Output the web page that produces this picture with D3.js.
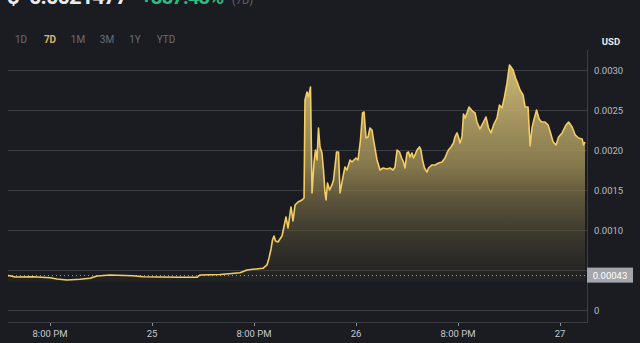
<!DOCTYPE html>
<html>
<head>
<meta charset="utf-8">
<script src="https://cdn.jsdelivr.net/npm/d3@7"></script>
<style>
  html, body { margin: 0; padding: 0; background: #1b1c21; }
  svg { display: block; font-family: Roboto, "Noto Sans", sans-serif; }
</style>
</head>
<body>
<div id="chart"></div>
<script>
var width = 640,
	height = 343;

// hours since start of window
var hours = [0, 0.24, 0.82, 2.95, 4.95, 5.77, 6.95, 8.49, 9.66, 10.49, 12.02, 14.73, 15.91, 17.91, 20.27, 22.27,
	22.63, 24.99, 27.34, 28.17, 28.87, 30.05, 30.52, 30.76, 31.0, 31.17, 31.35, 31.53, 31.82, 32.29, 32.47, 32.76,
	33.0, 33.35, 33.59, 33.83, 34.18, 34.65, 34.89, 35.0, 35.24, 35.42, 35.65, 35.83, 36.06, 36.24, 36.42, 36.59,
	36.77, 37.0, 37.18, 37.36, 37.48, 37.65, 37.89, 38.18, 38.36, 38.72, 38.95, 39.13, 39.48, 39.71, 39.95, 40.31,
	40.54, 40.77, 41.01, 41.25, 41.54, 41.78, 41.96, 42.19, 42.43, 42.66, 42.9, 43.08, 43.49, 43.84, 44.2, 44.67,
	45.02, 45.38, 45.61, 45.85, 46.14, 46.38, 46.61, 46.79, 47.02, 47.2, 47.38, 47.61, 47.79, 47.97, 48.2, 48.5,
	48.67, 48.85, 49.08, 49.38, 49.56, 49.97, 50.32, 50.74, 51.15, 51.5, 51.74, 51.91, 52.21, 52.5, 52.68, 52.92,
	53.09, 53.27, 53.5, 53.68, 53.86, 54.09, 54.33, 54.62, 54.86, 55.04, 55.27, 55.62, 56.04, 56.33, 56.63, 56.92,
	57.27, 57.63, 57.92, 58.22, 58.51, 58.81, 59.1, 59.28, 59.52, 59.81, 60.05, 60.34, 60.7, 60.94, 61.29, 61.53,
	61.76, 61.94, 62.29, 62.59, 62.88, 63.29, 63.65, 63.94, 64.24, 64.59, 64.89, 65.3, 65.77, 66.07, 66.48, 66.84,
	67.25, 67.66, 67.84, 68.0];

// price in USD
var prices = [0.00043, 0.000429, 0.000413, 0.000416, 0.000404, 0.000388, 0.000375, 0.000384, 0.000396, 0.000425,
	0.000438, 0.000429, 0.000416, 0.000413, 0.00041, 0.000409, 0.000438, 0.000444, 0.000466, 0.0005, 0.000509,
	0.000521, 0.000563, 0.00065, 0.000763, 0.000875, 0.000925, 0.000863, 0.00085, 0.000925, 0.001013, 0.001163,
	0.001025, 0.001288, 0.001113, 0.001313, 0.00135, 0.001375, 0.0014, 0.002625, 0.002725, 0.002663, 0.002788,
	0.001463, 0.001838, 0.002, 0.001875, 0.002275, 0.002038, 0.001963, 0.00175, 0.001463, 0.001375, 0.001588,
	0.0015, 0.001563, 0.001625, 0.001975, 0.001975, 0.001463, 0.001663, 0.001788, 0.00175, 0.001875, 0.00185,
	0.001875, 0.0019, 0.001875, 0.002125, 0.002463, 0.002475, 0.00215, 0.002163, 0.002275, 0.00225, 0.002125,
	0.001875, 0.00175, 0.001775, 0.001763, 0.001775, 0.00175, 0.001788, 0.002, 0.001975, 0.0019, 0.00185, 0.001775,
	0.001963, 0.001975, 0.001913, 0.001963, 0.0019, 0.001938, 0.002, 0.002038, 0.002, 0.001875, 0.001775, 0.001725,
	0.001775, 0.001813, 0.001813, 0.001838, 0.00185, 0.0019, 0.001963, 0.002, 0.002038, 0.002088, 0.002163,
	0.002213, 0.002163, 0.002088, 0.002163, 0.00245, 0.0024, 0.002463, 0.002538, 0.0025, 0.002475, 0.002463,
	0.00235, 0.002263, 0.00235, 0.002413, 0.002275, 0.002213, 0.002325, 0.0024, 0.002563, 0.002525, 0.002663,
	0.002838, 0.003063, 0.003038, 0.003, 0.0029, 0.002838, 0.00275, 0.002688, 0.002538, 0.002538, 0.00205,
	0.002275, 0.002363, 0.0025, 0.002388, 0.00235, 0.00235, 0.002313, 0.002213, 0.0021, 0.002063, 0.002163,
	0.002213, 0.002313, 0.00235, 0.002288, 0.002188, 0.00215, 0.002138, 0.002063, 0.0021];

var tickHours = [5, 17, 29, 41, 53, 65];
var tickLabels = ["8:00 PM", "25", "8:00 PM", "26", "8:00 PM", "27"];
var gridTicks = [0, 0.0005, 0.0010, 0.0015, 0.0020, 0.0025, 0.0030];
// the 0.0005 label sits under the open-price badge, so it is not drawn
var labelTicks = [0, 0.0010, 0.0015, 0.0020, 0.0025, 0.0030];
var labelText = ["0", "0.0010", "0.0015", "0.0020", "0.0025", "0.0030"];
var openPrice = 0.00043;
var ranges = ["1D", "7D", "1M", "3M", "1Y", "YTD"];
var rangeX = [21, 50, 78, 107, 135, 166];

var data = hours.map(function(h, i){ return {h: h, p: prices[i]}; });

var svg = d3.select("#chart").append("svg")
	.attr("width", width)
	.attr("height", height);

svg.append("rect").attr("width", width).attr("height", height).attr("fill", "#1b1c21");

var x = d3.scaleLinear().domain([0, 68]).range([8, 585]);
var y = d3.scaleLinear().domain([0, 0.003]).range([310, 70]);

// header (cut off at the top, as in the screenshot)
svg.append("text").attr("x", 7).attr("y", 4).attr("font-weight", "bold")
	.attr("fill", "#eaecef").attr("font-size", 22).text("$");
svg.append("text").attr("x", 29).attr("y", 4).attr("font-weight", "bold")
	.attr("fill", "#eaecef").attr("font-size", 22).attr("textLength", 99).text("0.0021477");
svg.append("text").attr("x", 141).attr("y", 4).attr("font-weight", "bold")
	.attr("fill", "#2ebd85").attr("font-size", 20).attr("textLength", 83).text("+387.48%");
svg.append("text").attr("x", 232).attr("y", 4).attr("fill", "#5e6673").attr("font-size", 11).text("(7D)");

// range buttons
svg.selectAll(".rng")
	.data(ranges)
	.enter()
	.append("text")
	.attr("class", "rng")
	.attr("x", function(d, i){ return rangeX[i]; })
	.attr("y", 43)
	.attr("text-anchor", "middle")
	.attr("font-size", 10)
	.attr("fill", function(d){ return d === "7D" ? "#d6b56a" : "#6b6e76"; })
	.attr("font-weight", function(d){ return d === "7D" ? "bold" : "normal"; })
	.text(function(d){ return d; });

svg.append("text")
	.attr("x", 611).attr("y", 45)
	.attr("text-anchor", "middle")
	.attr("font-size", 9.5)
	.attr("font-weight", "bold")
	.attr("fill", "#eaecef")
	.text("USD");

// grid
svg.append("g")
	.selectAll("line")
	.data(gridTicks)
	.enter()
	.append("line")
	.attr("x1", 8).attr("x2", 587)
	.attr("y1", function(d){ return Math.round(y(d)) + 0.5; })
	.attr("y2", function(d){ return Math.round(y(d)) + 0.5; })
	.attr("stroke", "#3b3d43")
	.attr("stroke-width", 1);

// gradient fill
var defs = svg.append("defs");
var grad = defs.append("linearGradient")
	.attr("id", "areaFill")
	.attr("gradientUnits", "userSpaceOnUse")
	.attr("x1", 0).attr("y1", y(0.0031))
	.attr("x2", 0).attr("y2", y(0.0002));
grad.append("stop").attr("offset", "0%").attr("stop-color", "#d9c37c").attr("stop-opacity", 0.95);
grad.append("stop").attr("offset", "45%").attr("stop-color", "#9c8c56").attr("stop-opacity", 0.82);
grad.append("stop").attr("offset", "100%").attr("stop-color", "#2a2824").attr("stop-opacity", 0.2);

var area = d3.area()
	.x(function(d){ return x(d.h); })
	.y0(y(0.00036))
	.y1(function(d){ return y(d.p); });

svg.append("path")
	.datum(data)
	.attr("d", area)
	.attr("fill", "url(#areaFill)");

// open price dotted line
svg.append("line")
	.attr("x1", 8).attr("x2", 587)
	.attr("y1", y(openPrice)).attr("y2", y(openPrice))
	.attr("stroke", "#9ea1a8")
	.attr("stroke-width", 1)
	.attr("stroke-dasharray", "1,3");

var line = d3.line()
	.x(function(d){ return x(d.h); })
	.y(function(d){ return y(d.p); });

svg.append("path")
	.datum(data)
	.attr("d", line)
	.attr("fill", "none")
	.attr("stroke", "#f3cd62")
	.attr("stroke-width", 1.6)
	.attr("stroke-linejoin", "round");

// axes frame
svg.append("line")
	.attr("x1", 587.5).attr("x2", 587.5).attr("y1", 50).attr("y2", 323)
	.attr("stroke", "#3b3d43");
svg.append("line")
	.attr("x1", 8).attr("x2", 588).attr("y1", 322.5).attr("y2", 322.5)
	.attr("stroke", "#3b3d43");

// y labels
svg.append("g")
	.selectAll("text")
	.data(labelTicks)
	.enter()
	.append("text")
	.attr("x", 594)
	.attr("y", function(d){ return y(d) + 3.5; })
	.attr("font-size", 9.5)
	.attr("fill", "#b7bdc6")
	.text(function(d, i){ return labelText[i]; });

// open price badge
svg.append("rect")
	.attr("x", 587).attr("y", y(openPrice) - 8)
	.attr("width", 46).attr("height", 15)
	.attr("fill", "#a3a6ac");
svg.append("text")
	.attr("x", 610).attr("y", y(openPrice) + 3.5)
	.attr("text-anchor", "middle")
	.attr("font-size", 9.5)
	.attr("fill", "#ffffff")
	.text("0.00043");

// x ticks
var xt = svg.append("g")
	.selectAll("g")
	.data(tickHours)
	.enter()
	.append("g")
	.attr("transform", function(d){ return "translate(" + Math.round(x(d)) + ",0)"; });
xt.append("line")
	.attr("y1", 323).attr("y2", 326)
	.attr("x1", 0.5).attr("x2", 0.5)
	.attr("stroke", "#8a8e96");
xt.append("text")
	.attr("y", 337)
	.attr("text-anchor", "middle")
	.attr("font-size", 9.5)
	.attr("fill", "#c4c8cf")
	.text(function(d, i){ return tickLabels[i]; });
</script>
</body>
</html>
